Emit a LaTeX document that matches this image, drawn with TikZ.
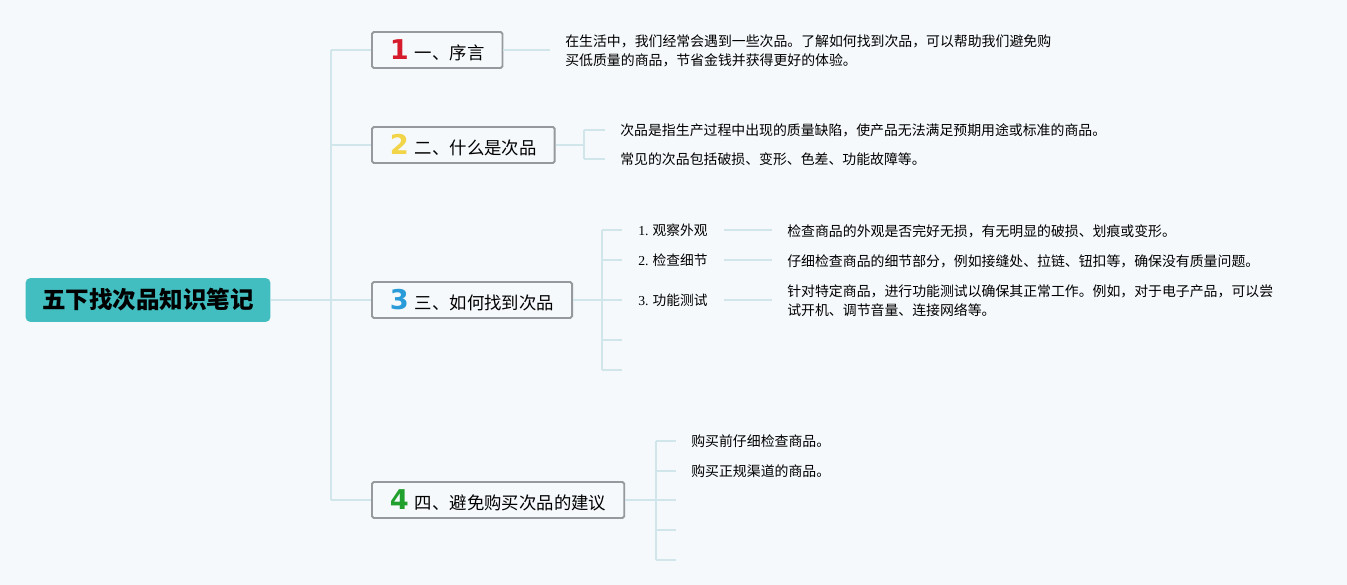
\documentclass[tikz,border=0pt]{standalone}
\usepackage{fontspec}
\setmainfont{Noto Sans CJK SC}
\newfontfamily\numfont{Liberation Serif}
\newfontfamily\digitfont{DejaVu Sans}
\usepackage{xcolor}
\usepackage{tikz}
\usetikzlibrary{positioning}
\definecolor{bgcolor}{RGB}{245,249,251}
\definecolor{rootcolor}{RGB}{66,190,192}
\definecolor{linkcolor}{RGB}{208,230,234}
\definecolor{boxline}{RGB}{150,153,157}
\definecolor{numred}{RGB}{214,28,44}
\definecolor{numyellow}{RGB}{242,212,72}
\definecolor{numblue}{RGB}{40,155,216}
\definecolor{numgreen}{RGB}{34,160,46}
\newcommand{\topicnum}[2]{{\digitfont\fontsize{15.5pt}{15pt}\selectfont\bfseries\color{#1}#2}\hspace{0.12cm}}
\tikzset{
  rootbox/.style={fill=rootcolor, rounded corners=0.1cm, minimum width=4.9cm, minimum height=0.88cm, font=\fontsize{13.4pt}{16pt}\selectfont\bfseries},
  topicbox/.style={draw=boxline, line width=1.1pt, fill=bgcolor, rounded corners=1pt, anchor=west, minimum height=0.72cm, inner xsep=0.36cm, font=\fontsize{9.9pt}{12pt}\selectfont},
  leaftext/.style={anchor=west, inner ysep=0pt, inner xsep=0.3cm, align=left, font=\fontsize{7.9pt}{11pt}\selectfont},
  sublabel/.style={anchor=west, inner ysep=0pt, inner xsep=0.32cm, font=\fontsize{7.8pt}{10pt}\selectfont},
  link/.style={draw=linkcolor, line width=0.7pt}
}
\begin{document}
\begin{tikzpicture}[x=0.02cm, y=-0.02cm]
  \fill[bgcolor] (0,0) rectangle (1347,585);
  \useasboundingbox (0,0) rectangle (1347,585);

  % main topics
  \node (root) [rootbox] at (148,300) {五下找次品知识笔记};
  \node (t1) [topicbox] at (371,50) {\topicnum{numred}{1}一、序言};
  \node (t2) [topicbox] at (371,145) {\topicnum{numyellow}{2}二、什么是次品};
  \node (t3) [topicbox] at (371,300) {\topicnum{numblue}{3}三、如何找到次品};
  \node (t4) [topicbox] at (371,500) {\topicnum{numgreen}{4}四、避免购买次品的建议};

  \coordinate (trunk1) at (331,50);
  \coordinate (trunk4) at (331,500);
  \draw[link] (trunk1) -- (trunk4);
  \draw[link] (root.east) -- (t3.west);
  \foreach \t in {t1,t2,t4} \draw[link] (\t.west -| trunk1) -- (\t.west);

  % 1
  \node (d1) [leaftext] at (550,51) {在生活中，我们经常会遇到一些次品。了解如何找到次品，可以帮助我们避免购\\买低质量的商品，节省金钱并获得更好的体验。};
  \draw[link] (t1.east) -- (t1.east -| d1.west);

  % 2
  \coordinate (k2) at (584,145);
  \node (d21) [leaftext] at (605,130) {次品是指生产过程中出现的质量缺陷，使产品无法满足预期用途或标准的商品。};
  \node (d22) [leaftext] at (605,159) {常见的次品包括破损、变形、色差、功能故障等。};
  \draw[link] (t2.east) -- (k2);
  \draw[link] (k2 |- d21.west) -- (k2 |- d22.west);
  \foreach \d in {d21,d22} \draw[link] (k2 |- \d.west) -- (\d.west);

  % 3
  \coordinate (k3) at (602,300);
  \node (s1) [sublabel] at (622,230) {{\numfont 1.} 观察外观};
  \node (s2) [sublabel] at (622,260) {{\numfont 2.} 检查细节};
  \node (s3) [sublabel] at (622,300) {{\numfont 3.} 功能测试};
  \node (d31) [leaftext] at (772,231) {检查商品的外观是否完好无损，有无明显的破损、划痕或变形。};
  \node (d32) [leaftext] at (772,261) {仔细检查商品的细节部分，例如接缝处、拉链、钮扣等，确保没有质量问题。};
  \node (d33) [leaftext] at (772,301) {针对特定商品，进行功能测试以确保其正常工作。例如，对于电子产品，可以尝\\试开机、调节音量、连接网络等。};
  \coordinate (e34) at (622,340);
  \coordinate (e35) at (622,370);
  \draw[link] (t3.east) -- (k3);
  \draw[link] (k3 |- s1.west) -- (k3 |- e35);
  \foreach \s in {s1,s2,s3,e34,e35} \draw[link] (k3 |- \s.west) -- (\s.west);
  \draw[link] (s1.east) -- (s1.east -| d31.west);
  \draw[link] (s2.east) -- (s2.east -| d32.west);
  \draw[link] (s3.east) -- (s3.east -| d33.west);

  % 4
  \coordinate (k4) at (656,500);
  \node (d41) [leaftext] at (676,441) {购买前仔细检查商品。};
  \node (d42) [leaftext] at (676,471) {购买正规渠道的商品。};
  \coordinate (e43) at (676,500);
  \coordinate (e44) at (676,530);
  \coordinate (e45) at (676,560);
  \draw[link] (t4.east) -- (k4);
  \draw[link] (k4 |- d41.west) -- (k4 |- e45);
  \foreach \d in {d41,d42,e43,e44,e45} \draw[link] (k4 |- \d.west) -- (\d.west);
\end{tikzpicture}
\end{document}
